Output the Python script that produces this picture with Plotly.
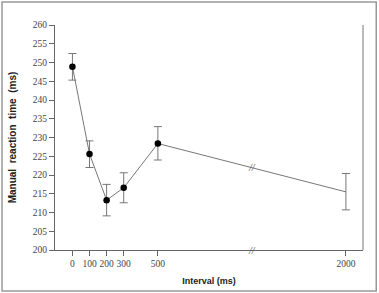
import plotly.graph_objects as go

# Data
intervals = ["0", "100", "200", "300", "500", "2000"]
x_display = [0, 100, 200, 300, 500, 1600]   # broken axis: 2000 drawn after a gap
rt = [248.9, 225.6, 213.3, 216.6, 228.4, 215.5]
err_up = [3.5, 3.5, 4.2, 4.0, 4.5, 4.9]
err_down = [3.6, 3.6, 4.2, 4.0, 4.4, 4.8]
y_ticks = list(range(200, 261, 5))
break_x = 1049

fig = go.Figure()
# line with error bars
fig.add_trace(go.Scatter(
    x=x_display, y=rt, mode="lines",
    line=dict(color="#777777", width=1),
    error_y=dict(type="data", symmetric=False, array=err_up, arrayminus=err_down,
                 color="#777777", thickness=1, width=4),
    showlegend=False,
))
# filled markers on top (no marker at 2000 in the original)
fig.add_trace(go.Scatter(
    x=x_display[:-1], y=rt[:-1], mode="markers",
    marker=dict(color="black", size=6.5, line=dict(width=0)),
    showlegend=False,
))

# break marks
yb = rt[4] + (rt[5] - rt[4]) * (break_x - x_display[4]) / (x_display[5] - x_display[4])
for yy in [yb, 200]:
    fig.add_annotation(x=break_x, y=yy, text="<i>//</i>", showarrow=False,
                       font=dict(family="Liberation Serif", size=10, color="#444444"),
                       xref="x", yref="y", bgcolor="rgba(255,255,255,0)")

# right axis line
fig.add_shape(type="line", xref="paper", yref="paper", x0=1, x1=1, y0=0, y1=1,
              line=dict(color="#bbbbbb", width=2))
# outer frame
fig.add_shape(type="rect", xref="paper", yref="paper",
              x0=-0.172, x1=1.043, y0=-0.182, y1=1.102,
              line=dict(color="#999999", width=1.5))

fig.update_layout(
    width=379, height=293,
    margin=dict(l=55, r=16, t=25, b=43),
    paper_bgcolor="white", plot_bgcolor="white",
    xaxis=dict(
        range=[-102, 1700], tickmode="array", tickvals=x_display, ticktext=intervals,
        showgrid=False, zeroline=False, showline=True, linecolor="#666666", linewidth=1,
        ticks="outside", ticklen=5, tickcolor="#666666", automargin=False,
        tickfont=dict(family="Liberation Serif", size=9.5, color="#444444"),
        title=dict(text="<b>Interval (ms)</b>", standoff=9,
                   font=dict(family="Liberation Sans", size=9, color="#222222")),
    ),
    yaxis=dict(
        range=[200, 260], tickmode="array", tickvals=y_ticks,
        showgrid=False, zeroline=False, showline=True, linecolor="#666666", linewidth=1,
        ticks="outside", ticklen=5, tickcolor="#666666", automargin=False,
        tickfont=dict(family="Liberation Serif", size=9.5, color="#444444"),
        title=dict(text="<b>Manual&nbsp; reaction&nbsp; time&nbsp; (ms)</b>", standoff=14,
                   font=dict(family="Liberation Sans", size=10, color="#222222")),
    ),
)

fig.write_html("out.html")
